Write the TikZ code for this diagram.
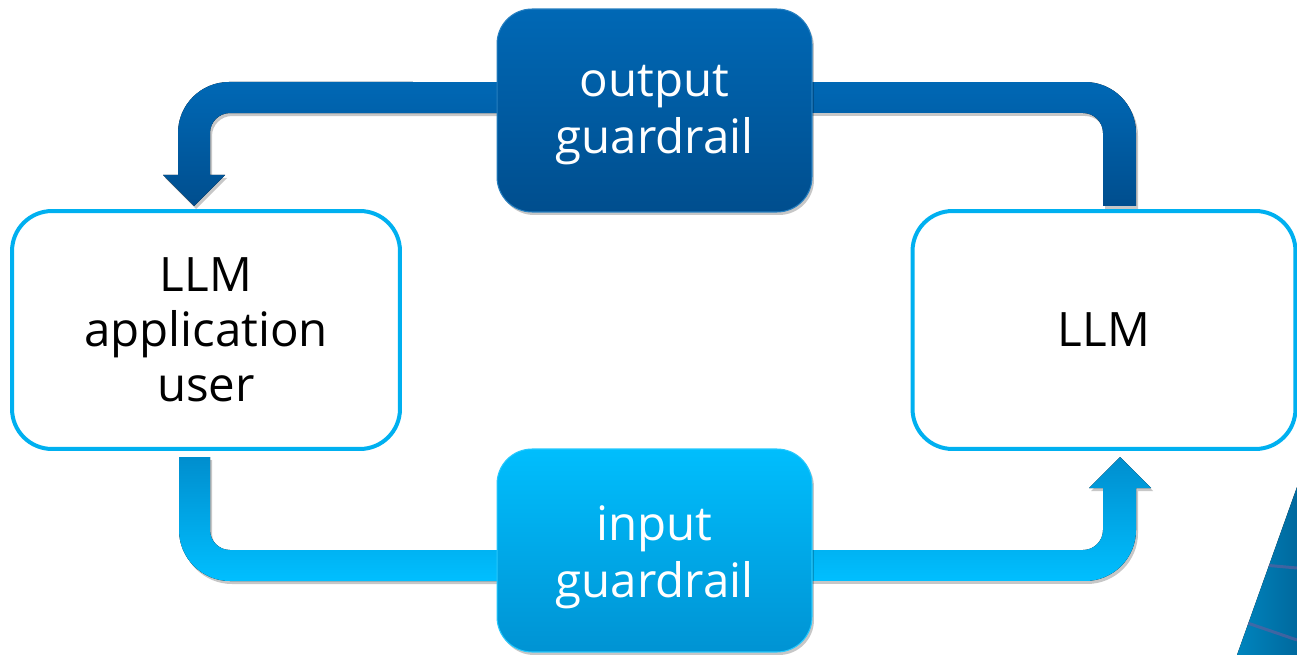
\documentclass[tikz,border=0pt]{standalone}
\usepackage{fontspec}
\setmainfont{Open Sans}
\usetikzlibrary{shadows}
\definecolor{outtop}{HTML}{0068B5}
\definecolor{outbot}{HTML}{004E8E}
\definecolor{intop}{HTML}{00BEFD}
\definecolor{inbot}{HTML}{0093D3}
\definecolor{arrtop}{HTML}{008ECE}
\definecolor{arrbot}{HTML}{00BFFF}
\definecolor{boxline}{HTML}{00B0F0}
\definecolor{decoA}{HTML}{0085BE}
\definecolor{decoB}{HTML}{00699E}
\definecolor{stripe}{HTML}{6A5C9E}
\begin{document}
\begin{tikzpicture}[x=0.02cm,y=0.02cm,
  every node/.style={font=\fontsize{27}{31.3}\selectfont, align=center, inner sep=0pt},
  softshadow/.style={drop shadow={shadow xshift=0.04cm, shadow yshift=-0.06cm, opacity=0.22, fill=black}},
  actor/.style={draw=boxline, line width=0.08cm, fill=white, rounded corners=0.8cm,
    minimum width=7.76cm, minimum height=4.76cm, text=black},
  guard/.style={rounded corners=0.7cm, minimum width=6.3cm, minimum height=4.06cm,
    line width=0.6pt, softshadow},
  guardtext/.style={text=white, font=\fontsize{27}{32.5}\selectfont},
  outarrow/.style={top color=outtop, bottom color=outbot, softshadow},
  inarrow/.style={top color=arrtop, bottom color=arrbot, softshadow},
]
\useasboundingbox (0,0) rectangle (1297,-655);
\fill[white] (0,0) rectangle (1297,-655);

% background decoration
\fill[left color=decoA, right color=decoB] (1297,-487) -- (1237,-655) -- (1297,-655) -- cycle;
\begin{scope}
  \clip (1297,-487) -- (1237,-655) -- (1297,-655) -- cycle;
  \draw[stripe, opacity=0.6, line width=0.06cm] (1230,-562) -- (1297,-568);
  \draw[stripe, opacity=0.6, line width=0.06cm] (1230,-617) -- (1297,-640);
\end{scope}

% arrow end points
\coordinate (outtip) at (194,-206);
\coordinate (outtail) at (1119.5,-206);
\coordinate (intail) at (194.5,-457);
\coordinate (intip) at (1120,-457);

% output arrow: LLM -> user
\fill[outarrow] (outtip) -- (225,-175) -- (210,-175) -- (210,-133)
  arc[start angle=180, end angle=90, radius=0.4cm] -- (1083,-113)
  arc[start angle=90, end angle=0, radius=0.4cm] -- (1103,-206) -- (1136,-206) -- (1136,-133)
  arc[start angle=0, end angle=90, radius=1.02cm] -- (229,-82)
  arc[start angle=90, end angle=180, radius=1.02cm] -- (178,-175) -- (163,-175) -- cycle;

% input arrow: user -> LLM
\fill[inarrow] (179,-457) -- (210,-457) -- (210,-530)
  arc[start angle=180, end angle=270, radius=0.4cm] -- (1083,-550)
  arc[start angle=270, end angle=360, radius=0.4cm] -- (1103,-488) -- (1089,-488) -- (intip)
  -- (1151,-488) -- (1136,-488) -- (1136,-530)
  arc[start angle=0, end angle=-90, radius=1.02cm] -- (230,-581)
  arc[start angle=270, end angle=180, radius=1.02cm] -- cycle;

% boxes
\node[actor] (user) at (206,-330) {LLM\\application\\user};
\node[actor, minimum width=7.66cm] (llm) at (1104,-330) {LLM};
\node[guard, top color=outtop, bottom color=outbot, draw=outtop!85!white] (outg) at (654.5,-110.5) {};
\node[guardtext] (outgtext) at ([yshift=-0.1cm]outg.center) {output\\guardrail};
\node[guard, top color=intop, bottom color=inbot, draw=intop!85!white] (ing) at (654.5,-550.5) {};
\node[guardtext] (ingtext) at ([yshift=-0.14cm]ing.center) {input\\guardrail};
\end{tikzpicture}
\end{document}
